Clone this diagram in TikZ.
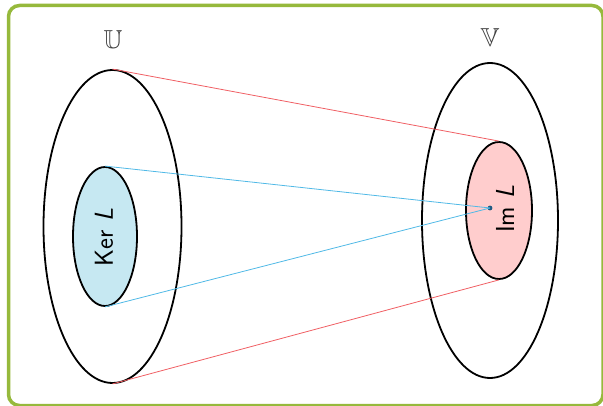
\documentclass[tikz,border=0pt]{standalone}
\usepackage{fontspec}
\usepackage{amssymb}
\usetikzlibrary{shapes.geometric}
\definecolor{marco}{RGB}{150,185,60}
\definecolor{rojo}{RGB}{240,95,100}
\definecolor{azul}{RGB}{80,185,230}
\definecolor{nucleo}{RGB}{198,232,242}
\definecolor{imagen}{RGB}{255,205,205}
\definecolor{punto}{RGB}{30,90,130}
\begin{document}
\begin{tikzpicture}[x=1pt, y=-1pt]
        \tikzstyle{conj}=[draw, ellipse, line width=1.8pt, inner sep=0pt]
        \tikzstyle{texto}=[font=\sffamily\fontsize{26}{30}\selectfont, rotate=90]
        \tikzstyle{nombre}=[font=\fontsize{26}{30}\selectfont, text=black!75]
        \tikzstyle{flecha}=[line width=0.8pt]

        \useasboundingbox (0,0) rectangle (603,406);
        \draw[marco, line width=3.5pt, rounded corners=11pt] (8.5,5.5) rectangle (603,405.5);

        \node[conj, minimum width=138, minimum height=313] (U) at (112.5,226.5) {};
        \node[conj, minimum width=136, minimum height=315] (V) at (490,220.5) {};
        \node[nombre] (lU) at (113,40) {$\mathbb{U}$};
        \node[nombre] (lV) at (490,38) {$\mathbb{V}$};

        \node[conj, fill=nucleo, minimum width=64, minimum height=139] (ker) at (105,236.5) {};
        \node[texto] (lker) at (104,237.5) {Ker \textit{L}};
        \node[conj, fill=imagen, minimum width=66, minimum height=137] (im) at (499,210.5) {};
        \node[texto] (lim) at (505,209) {Im \textit{L}};
        \node[circle, fill=punto, inner sep=1.7pt] (p) at (490,208) {};

        % U va a Im L, Ker L va a un punto
        \draw[flecha, rojo] (U.north) -- (im.north);
        \draw[flecha, rojo] (U.south) -- (im.south);
        \draw[flecha, azul] (ker.north) -- (p.center);
        \draw[flecha, azul] (ker.south) -- (p.center);
\end{tikzpicture}
\end{document}
